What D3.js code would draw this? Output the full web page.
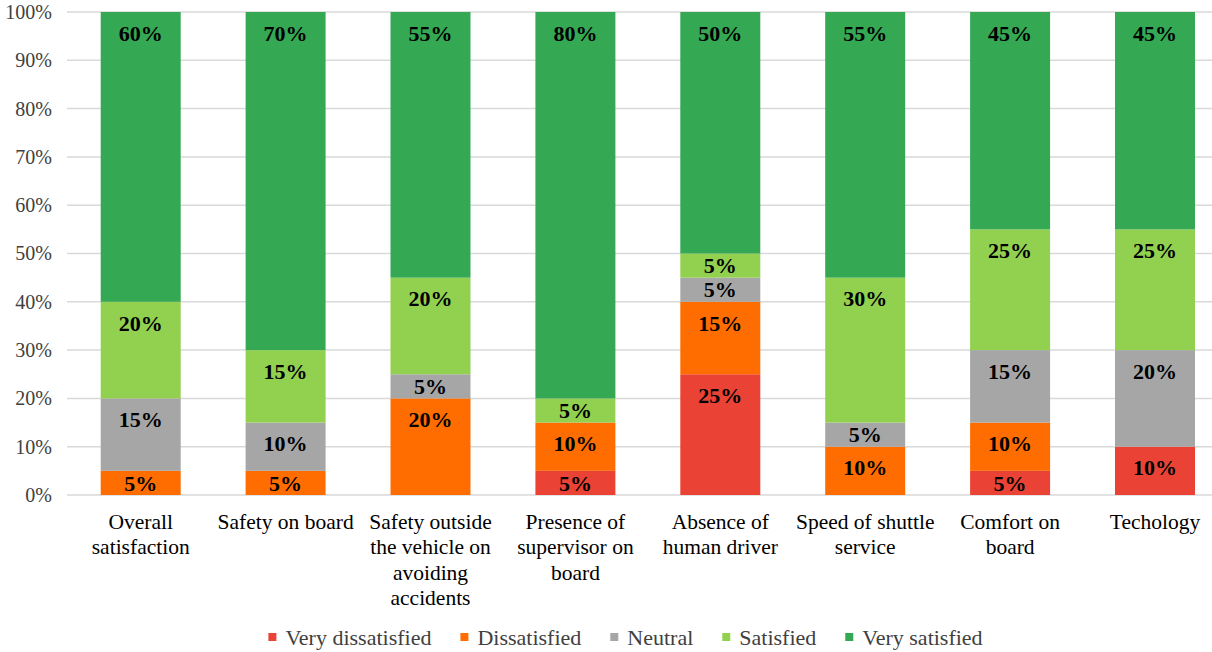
<!DOCTYPE html>
<html>
<head>
<meta charset="utf-8">
<script src="https://cdn.jsdelivr.net/npm/d3@7"></script>
<style>
  html, body { margin: 0; padding: 0; background: #fff; }
  svg { display: block; }
  svg text { font-family: "Liberation Serif", "Times New Roman", Times, Tinos, "DejaVu Serif", serif; }
</style>
</head>
<body>
<svg id="chart" width="1212" height="652"></svg>
<script>
const categories = [
  "Overall\nsatisfaction",
  "Safety on board",
  "Safety outside\nthe vehicle on\navoiding\naccidents",
  "Presence of\nsupervisor on\nboard",
  "Absence of\nhuman driver",
  "Speed of shuttle\nservice",
  "Comfort on\nboard",
  "Techology"
];
const seriesNames = ["Very dissatisfied", "Dissatisfied", "Neutral", "Satisfied", "Very satisfied"];
const veryDissatisfied = [0, 0, 0, 5, 25, 0, 5, 10];
const dissatisfied     = [5, 5, 20, 10, 15, 10, 10, 0];
const neutral          = [15, 10, 5, 0, 5, 5, 15, 20];
const satisfied        = [20, 15, 20, 5, 5, 30, 25, 25];
const verySatisfied    = [60, 70, 55, 80, 50, 55, 45, 45];
const yTicks = [0, 10, 20, 30, 40, 50, 60, 70, 80, 90, 100];
const colors = ["#EA4335", "#FF6D00", "#A6A6A6", "#92D050", "#34A853"];

const FONT = "'Liberation Serif', 'Times New Roman', Times, Tinos, 'DejaVu Serif', serif";

const seriesValues = [veryDissatisfied, dissatisfied, neutral, satisfied, verySatisfied];
const table = categories.map((c, i) => {
  const row = { category: c };
  seriesNames.forEach((s, k) => row[s] = seriesValues[k][i]);
  return row;
});

const svg = d3.select("#chart").attr("font-family", FONT);
const x = d3.scaleBand()
  .domain(categories)
  .range([68.25, 1227.45])
  .paddingInner(0.448)
  .paddingOuter(0.224);
const y = d3.scaleLinear().domain([0, 100]).range([495, 12]);

// gridlines
svg.append("g").selectAll("line").data(yTicks).join("line")
  .attr("x1", 67).attr("x2", 1212)
  .attr("y1", d => y(d)).attr("y2", d => y(d))
  .attr("stroke", "#D9D9D9").attr("stroke-width", 1.5);

// y axis
const yAxis = d3.axisLeft(y).tickValues(yTicks).tickFormat(d => d + "%").tickSize(0).tickPadding(0);
const yg = svg.append("g").attr("transform", "translate(52,0)").call(yAxis);
yg.attr("font-family", FONT);
yg.select(".domain").remove();
yg.selectAll("text").attr("font-size", 20).attr("fill", "#404040")
  .style("font-family", FONT);

// stacks
const stack = d3.stack().keys(seriesNames)(table);
const layers = svg.append("g").selectAll("g").data(stack).join("g")
  .attr("fill", (d, i) => colors[i]);
layers.selectAll("rect").data(d => d).join("rect")
  .attr("x", d => x(d.data.category))
  .attr("width", x.bandwidth())
  .attr("y", d => y(d[1]))
  .attr("height", d => y(d[0]) - y(d[1]));

// value labels
const labels = svg.append("g");
stack.forEach(layer => {
  layer.forEach(d => {
    const v = d[1] - d[0];
    if (v <= 0) return;
    const top = y(d[1]), h = y(d[0]) - y(d[1]);
    labels.append("text")
      .attr("x", x(d.data.category) + x.bandwidth() / 2)
      .attr("y", top + Math.min(21, h / 2))
      .attr("dy", "0.35em")
      .attr("text-anchor", "middle")
      .attr("font-size", 22)
      .attr("font-weight", "bold")
      .attr("fill", "#000")
      .style("font-family", FONT)
      .text(v + "%");
  });
});

// x axis labels
const xAxis = d3.axisBottom(x).tickSize(0).tickFormat("");
const xg = svg.append("g").attr("transform", "translate(0,495)").call(xAxis);
xg.attr("font-family", FONT);
xg.select(".domain").remove();
xg.selectAll(".tick").each(function(d) {
  const t = d3.select(this).append("text")
    .attr("text-anchor", "middle")
    .attr("font-size", 21.5)
    .attr("fill", "#000")
    .style("font-family", FONT);
  d.split("\n").forEach((line, i) => {
    t.append("tspan").attr("x", 0).attr("y", 33.5 + i * 25.5).text(line);
  });
});

// legend
const legend = svg.append("g");
let cx = 0;
seriesNames.forEach((s, i) => {
  const g = legend.append("g");
  g.append("rect").attr("x", 0).attr("y", -4).attr("width", 8).attr("height", 8).attr("fill", colors[i]);
  const t = g.append("text").attr("x", 17).attr("y", 0).attr("dy", "0.35em")
    .attr("font-size", 22).attr("fill", "#404040").style("font-family", FONT).text(s);
  const w = 17 + t.node().getComputedTextLength();
  g.attr("transform", `translate(${cx},0)`);
  cx += w + 29;
});
const total = cx - 29;
legend.attr("transform", `translate(${625.5 - total / 2},637)`);
</script>
</body>
</html>
